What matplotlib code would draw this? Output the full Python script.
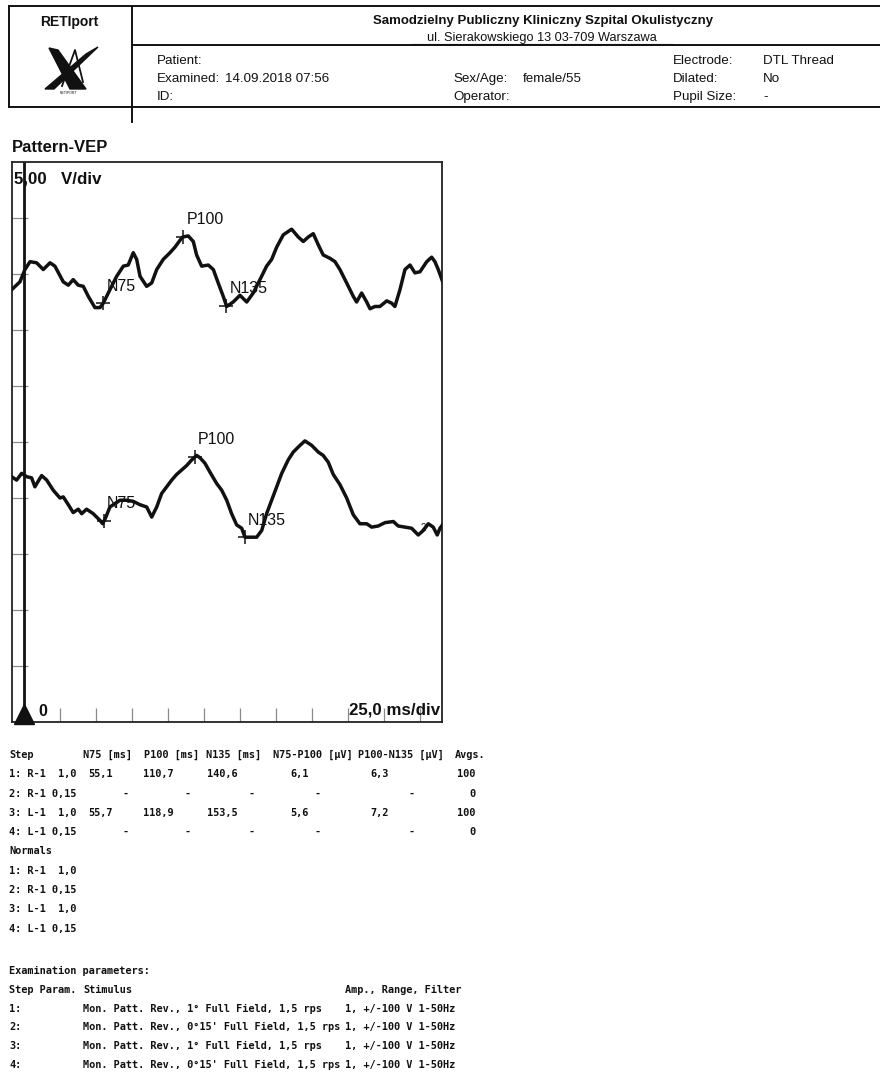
import numpy as np
import matplotlib
matplotlib.use("Agg")
import matplotlib.pyplot as plt
from matplotlib.patches import Polygon

# ── Data ────────────────────────────────────────────────────────────────────
# Right eye trace (step 1), time in ms, value on the display scale in µV
R_MS = [-8.5, -2.8, 0.7, 4.2, 8.8, 13.4, 18.1, 21.5, 27.3, 30.8, 34.2, 37.7, 41.2, 44.7,
        49.3, 52.8, 55.1, 59.7, 64.4, 69.0, 72.4, 75.9, 78.3, 80.6, 85.2, 88.7, 92.2, 96.7,
        101.4, 104.9, 108.3, 110.2, 114.1, 117.6, 119.9, 123.4, 128.0, 131.5, 134.9, 138.4,
        140.8, 145.3, 150.0, 154.7, 159.2, 163.9, 168.5, 172.0, 175.5, 180.1, 185.9, 190.5,
        194.0, 197.4, 200.9, 204.4, 207.8, 212.5, 216.0, 219.4, 224.1, 228.7, 231.0, 234.5,
        238.0, 240.3, 243.8, 247.2, 251.9, 255.3, 257.6, 261.1, 264.6, 268.1, 271.5, 275.0,
        279.7, 283.1, 285.4, 287.7, 290.8]
R_UV = [38.6, 39.3, 40.4, 41.1, 41.0, 40.4, 41.0, 40.7, 39.3, 39.0, 39.5, 39.0, 38.9, 38.0,
        37.0, 37.0, 37.4, 38.6, 39.8, 40.7, 40.8, 41.9, 41.3, 39.8, 38.9, 39.2, 40.4, 41.3,
        41.9, 42.4, 43.0, 43.3, 43.4, 42.9, 41.7, 40.7, 40.8, 40.4, 39.2, 38.0,
        37.1, 37.5, 38.1, 37.5, 38.3, 39.5, 40.7, 41.3, 42.4, 43.5, 44.0, 43.3,
        42.9, 43.3, 43.6, 42.6, 41.7, 41.4, 41.1, 40.4, 39.2, 38.0, 37.5, 38.3,
        37.5, 36.9, 37.1, 37.1, 37.6, 37.4, 37.1, 38.6, 40.4, 40.8, 40.1, 40.2,
        41.1, 41.5, 41.1, 40.4, 39.3]

# Left eye trace (step 3)
L_MS = [-8.5, -5.1, -1.6, 1.9, 5.3, 7.6, 9.9, 12.3, 15.8, 20.3, 25.0, 27.3, 30.8, 34.2,
        37.7, 40.1, 43.5, 48.1, 52.8, 54.7, 56.9, 59.7, 63.2, 66.7, 71.3, 75.9, 80.6, 85.2,
        88.7, 92.2, 95.6, 99.1, 102.6, 106.0, 109.5, 113.0, 116.5, 119.9, 122.2, 125.7,
        129.2, 133.8, 137.3, 140.8, 144.2, 147.7, 151.2, 153.5, 156.9, 161.6, 165.1, 168.5,
        172.0, 175.5, 179.0, 183.5, 187.0, 191.7, 195.1, 199.8, 204.4, 207.8, 211.3, 214.8,
        219.4, 224.1, 228.7, 233.3, 238.0, 241.5, 246.0, 250.7, 256.5, 259.9, 264.6, 269.2,
        273.8, 277.3, 280.8, 284.2, 287.0, 288.9, 291.2]
L_UV = [21.9, 21.6, 22.2, 21.9, 21.8, 21.0, 21.5, 22.0, 21.6, 20.7, 20.0, 20.1, 19.4, 18.7,
        19.0, 18.6, 19.0, 18.6, 18.0, 17.7, 18.3, 19.2, 19.5, 19.8, 19.8, 19.7, 19.4, 19.2,
        18.3, 19.2, 20.4, 21.0, 21.6, 22.1, 22.5, 22.9, 23.4, 23.8, 23.6, 23.1,
        22.3, 21.3, 20.7, 19.8, 18.6, 17.6, 17.3, 16.5, 16.5, 16.5, 17.1, 18.6,
        19.8, 21.0, 22.2, 23.4, 24.1, 24.7, 25.1, 24.7, 24.1, 23.8, 23.2, 22.1,
        21.2, 20.0, 18.5, 17.7, 17.7, 17.4, 17.5, 17.8, 17.9, 17.5, 17.4, 17.3,
        16.7, 17.1, 17.7, 17.4, 16.7, 17.3, 17.7]

PEAK_NAMES = ["N75", "P100", "N135"]
R_PEAKS_MS = [55.1, 110.7, 140.6]
L_PEAKS_MS = [55.7, 118.9, 153.5]

# Results table
STEPS = ["1: R-1  1,0", "2: R-1 0,15", "3: L-1  1,0", "4: L-1 0,15"]
N75_MS = [55.1, None, 55.7, None]
P100_MS = [110.7, None, 118.9, None]
N135_MS = [140.6, None, 153.5, None]
N75_P100_UV = [6.1, None, 5.6, None]
P100_N135_UV = [6.3, None, 7.2, None]
AVGS = [100, 0, 100, 0]
TABLE_HEADERS = ["Step", "N75 [ms]", "P100 [ms]", "N135 [ms]",
                 "N75-P100 [µV]", "P100-N135 [µV]", "Avgs."]

STIMULI = ["Mon. Patt. Rev., 1° Full Field, 1,5 rps",
           "Mon. Patt. Rev., 0°15' Full Field, 1,5 rps",
           "Mon. Patt. Rev., 1° Full Field, 1,5 rps",
           "Mon. Patt. Rev., 0°15' Full Field, 1,5 rps"]
AMP_RANGE_FILTER = ["1, +/-100 V 1-50Hz"] * 4

# ── Style ───────────────────────────────────────────────────────────────────
W, H = 880, 1077
SANS = "Liberation Sans"
MONO = "DejaVu Sans Mono"
INK = "#111111"


def fmt(v):
    return f"{v:.1f}".replace(".", ",")


fig = plt.figure(figsize=(W / 100, H / 100), dpi=100)
fig.patch.set_facecolor("white")

# background axes in pixel coordinates for the report layout
bg = fig.add_axes([0, 0, 1, 1])
bg.set_xlim(0, W)
bg.set_ylim(H, 0)
bg.axis("off")

# ── Header box ──────────────────────────────────────────────────────────────
hl = dict(color=INK, lw=1.4)
bg.plot([9, 879], [6, 6], **hl)
bg.plot([9, 879], [107, 107], **hl)
bg.plot([9, 9], [6, 107], **hl)
bg.plot([132, 132], [6, 122], **hl)
bg.plot([132, 879], [45, 45], **hl)

bg.text(69, 22, "RETIport", fontsize=10, fontweight="bold", family=SANS,
        ha="center", va="center", color=INK)
# logo (stylised X)
bg.add_patch(Polygon([(49, 48), (58, 50), (86, 89), (70, 89)], closed=True, color=INK))
bg.add_patch(Polygon([(45, 89), (54, 89), (98, 47), (86, 54)], closed=True, color=INK))
bg.plot([62, 75, 83], [86, 50, 82], color=INK, lw=1.3)
bg.text(69, 93, "RETIPORT", fontsize=2.5, family=SANS, ha="center", va="center", color=INK)

bg.text(543, 21, "Samodzielny Publiczny Kliniczny Szpital Okulistyczny", fontsize=9.5,
        fontweight="bold", family=SANS, ha="center", va="center", color=INK)
bg.text(542, 38, "ul. Sierakowskiego 13 03-709 Warszawa", fontsize=9.2,
        family=SANS, ha="center", va="center", color=INK)
bg.plot([412, 672], [44, 44], color=INK, lw=0.8)

hdr = dict(fontsize=9.6, family=SANS, va="center", color=INK)
bg.text(157, 61, "Patient:", **hdr)
bg.text(157, 79, "Examined:", **hdr)
bg.text(225, 79, "14.09.2018 07:56", **hdr)
bg.text(157, 97, "ID:", **hdr)
bg.text(453, 79, "Sex/Age:", **hdr)
bg.text(523, 79, "female/55", **hdr)
bg.text(453, 97, "Operator:", **hdr)
bg.text(673, 61, "Electrode:", **hdr)
bg.text(673, 79, "Dilated:", **hdr)
bg.text(673, 97, "Pupil Size:", **hdr)
bg.text(763, 61, "DTL Thread", **hdr)
bg.text(763, 79, "No", **hdr)
bg.text(763, 97, "-", **hdr)

bg.text(12, 148, "Pattern-VEP", fontsize=12, fontweight="bold", family=SANS,
        va="center", color=INK)

# ── VEP plot ────────────────────────────────────────────────────────────────
X0, X1, Y0, Y1 = 12, 442, 162, 722
ax = fig.add_axes([X0 / W, 1 - Y1 / H, (X1 - X0) / W, (Y1 - Y0) / H])
ax.set_facecolor("none")
ax.set_xlim(-8.3, 290.3)
ax.set_ylim(0, 50)
ax.set_xticks([])
ax.set_yticks([])
for s in ax.spines.values():
    s.set_color("#222222")
    s.set_linewidth(1.3)

# divisions: 25 ms and 5 µV
ax.vlines(np.arange(25, 290, 25), 0, 1.25, color="#8a8a8a", lw=0.9, zorder=1)
ax.hlines(np.arange(5, 50, 5), -8.3, 3.0, color="#8a8a8a", lw=0.9, zorder=1)
ax.axvline(0, color=INK, lw=2.0, zorder=2)
ax.plot([0], [0.75], marker="^", ms=15, color=INK, clip_on=False, zorder=5)

for t, v, peaks in [(R_MS, R_UV, R_PEAKS_MS), (L_MS, L_UV, L_PEAKS_MS)]:
    ax.plot(t, v, color=INK, lw=2.5, solid_joinstyle="round", zorder=4)
    pv = np.interp(peaks, t, v)
    ax.plot(peaks, pv, ls="none", marker="+", ms=10, mew=1.1, color=INK, zorder=5)
    for name, px, py in zip(PEAK_NAMES, peaks, pv):
        ax.annotate(name, (px, py), xytext=(3, 17), textcoords="offset pixels",
                    fontsize=11.5, family=SANS, ha="left", va="center", color=INK, zorder=3)

ax.text(L_MS[-6], L_UV[-6] + 0.2, "2", fontsize=7, family=SANS, ha="center", va="center",
        color=INK, zorder=3)

ax.text(-6.9, 48.5, "5,00   V/div", fontsize=12.2, fontweight="bold", family=SANS,
        va="center", color=INK, zorder=1)
ax.text(9.7, 0.9, "0", fontsize=11.5, fontweight="bold", family=SANS, va="center",
        color=INK)
ax.text(288.9, 1.07, "25,0 ms/div", fontsize=12.2, fontweight="bold", family=SANS,
        ha="right", va="center", color=INK)

# ── Results table ───────────────────────────────────────────────────────────
mono = dict(fontsize=7.4, family=MONO, fontweight="bold", va="center", color=INK)
ROW0, DY = 755, 19.3
head_x = [9, 83, 144, 206, 273, 358, 455]
for x, lab in zip(head_x, TABLE_HEADERS):
    bg.text(x, ROW0, lab, **mono)

val_x = [88, 143, 207, 290, 370]
dash_x = [122, 184, 248, 315, 408]
cols = [N75_MS, P100_MS, N135_MS, N75_P100_UV, P100_N135_UV]
for i, step in enumerate(STEPS):
    y = ROW0 + DY * (i + 1)
    bg.text(9, y, step, **mono)
    for xv, xd, col in zip(val_x, dash_x, cols):
        if col[i] is None:
            bg.text(xd, y, "-", **mono)
        else:
            bg.text(xv, y, fmt(col[i]), **mono)
    bg.text(475, y, str(AVGS[i]), ha="right", **mono)

bg.text(9, ROW0 + DY * 5, "Normals", **mono)
for i, step in enumerate(STEPS):
    bg.text(9, ROW0 + DY * (6 + i), step, **mono)

# ── Examination parameters ──────────────────────────────────────────────────
PY0, PDY = 971, 18.8
bg.text(9, PY0, "Examination parameters:", **mono)
bg.text(9, PY0 + PDY, "Step Param.", **mono)
bg.text(83, PY0 + PDY, "Stimulus", **mono)
bg.text(345, PY0 + PDY, "Amp., Range, Filter", **mono)
for i, (stim, amp) in enumerate(zip(STIMULI, AMP_RANGE_FILTER)):
    y = PY0 + PDY * (i + 2)
    bg.text(9, y, f"{i + 1}:", **mono)
    bg.text(83, y, stim, **mono)
    bg.text(345, y, amp, **mono)

fig.savefig("out.png", dpi=100, facecolor="white")
